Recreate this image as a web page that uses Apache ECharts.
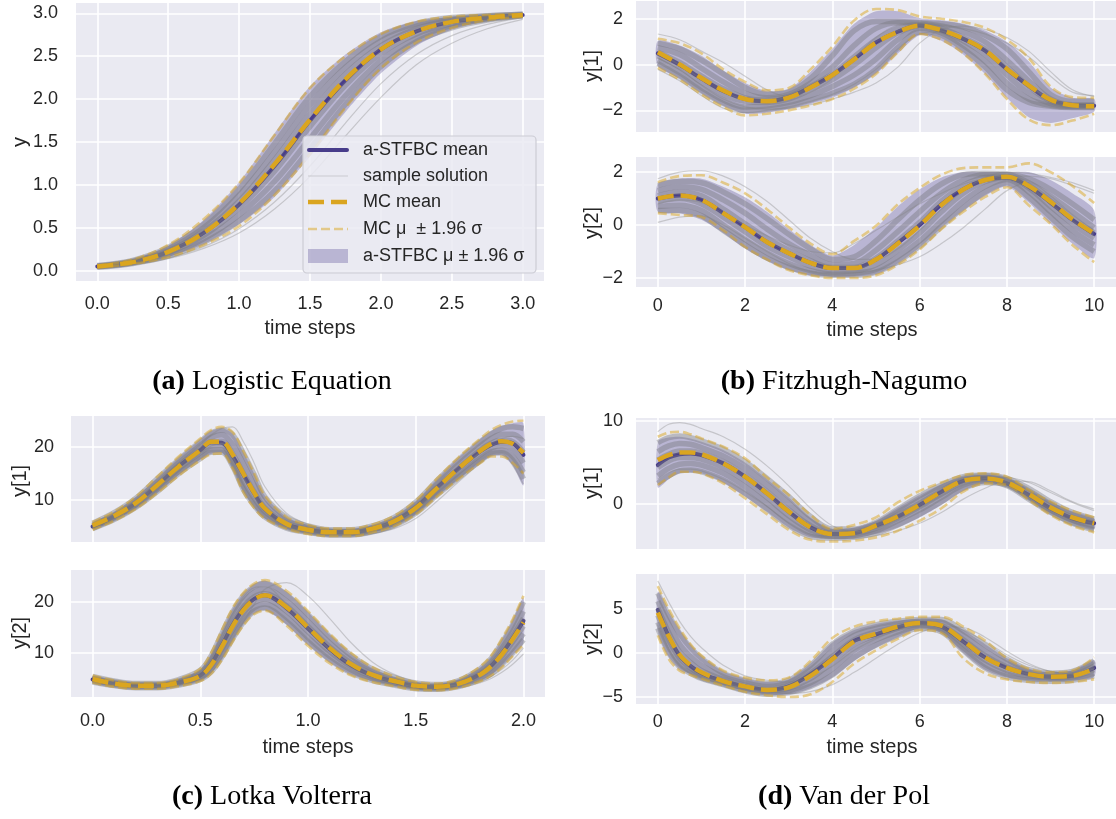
<!DOCTYPE html>
<html><head><meta charset="utf-8">
<script src="https://cdn.jsdelivr.net/npm/echarts@6.0.0/dist/echarts.min.js"></script>
<style>html,body{margin:0;padding:0;background:#fff}#c{width:1116px;height:819px}</style>
</head><body><div id="c"></div>
<script>
// ---------- (a) Logistic Equation ----------
const tA = [0,0.25,0.5,0.75,1,1.25,1.5,1.75,2,2.25,2.5,2.75,3];
const meanA   = [0.05,0.10,0.22,0.44,0.77,1.22,1.75,2.22,2.58,2.79,2.90,2.95,2.98];
const mcMeanA = [0.05,0.10,0.22,0.44,0.78,1.24,1.76,2.23,2.58,2.79,2.90,2.95,2.98];
const bandHiA = [0.06,0.13,0.29,0.59,1.03,1.60,2.15,2.52,2.78,2.91,2.96,2.98,2.99];
const bandLoA = [0.04,0.08,0.16,0.31,0.54,0.86,1.33,1.85,2.30,2.62,2.81,2.91,2.96];
const mcHiA   = [0.06,0.13,0.30,0.60,1.02,1.58,2.13,2.50,2.76,2.90,2.96,2.98,2.99];
const mcLoA   = [0.04,0.08,0.16,0.30,0.52,0.88,1.36,1.90,2.36,2.66,2.83,2.92,2.96];
const samplesA = [
  [0.06,0.12,0.27,0.54,0.95,1.48,2.03,2.44,2.73,2.88,2.95,2.97,2.99],
  [0.055,0.11,0.25,0.50,0.88,1.38,1.93,2.37,2.68,2.85,2.93,2.97,2.99],
  [0.05,0.105,0.23,0.46,0.81,1.29,1.83,2.29,2.62,2.82,2.92,2.96,2.98],
  [0.05,0.095,0.21,0.41,0.73,1.16,1.68,2.16,2.53,2.76,2.88,2.94,2.98],
  [0.045,0.09,0.19,0.37,0.65,1.04,1.54,2.04,2.45,2.71,2.86,2.93,2.97],
  [0.04,0.085,0.17,0.33,0.58,0.93,1.42,1.94,2.38,2.67,2.83,2.92,2.97]
];
const outliersA = [
  [0.04,0.07,0.14,0.26,0.44,0.72,1.10,1.57,2.02,2.40,2.65,2.82,2.93],
  [0.04,0.075,0.15,0.28,0.49,0.80,1.22,1.72,2.18,2.52,2.74,2.87,2.95]
];

// ---------- (b) Fitzhugh-Nagumo ----------
const tB = [0,0.5,1,1.5,2,2.5,3,3.5,4,4.5,5,5.5,6,6.5,7,7.5,8,8.5,9,9.5,10];
const meanB1   = [0.5,0.0,-0.6,-1.15,-1.5,-1.6,-1.42,-0.98,-0.45,0.25,0.98,1.45,1.72,1.5,1.14,0.62,-0.2,-0.92,-1.55,-1.77,-1.8];
const mcMeanB1 = [0.55,0.02,-0.58,-1.13,-1.5,-1.6,-1.44,-1.0,-0.45,0.24,0.97,1.44,1.72,1.52,1.15,0.63,-0.18,-0.9,-1.53,-1.78,-1.82];
const mcHiB1   = [1.14,0.95,0.5,-0.2,-0.75,-1.12,-1.02,-0.2,0.8,1.95,2.45,2.4,2.12,2.02,1.88,1.62,1.1,0.3,-0.95,-1.42,-1.45];
const mcLoB1   = [-0.13,-0.65,-1.3,-1.85,-2.22,-2.15,-2.0,-1.78,-1.5,-1.05,-0.4,0.55,1.35,1.1,0.5,-0.4,-1.5,-2.4,-2.65,-2.45,-2.15];
const bandHiB1 = [1.05,0.85,0.4,-0.25,-0.8,-1.15,-1.05,-0.3,0.7,1.8,2.35,2.35,2.05,1.95,1.8,1.5,1.0,0.15,-1.0,-1.45,-1.5];
const bandLoB1 = [-0.05,-0.6,-1.25,-1.8,-2.15,-2.1,-1.95,-1.72,-1.45,-1.0,-0.4,0.5,1.3,1.05,0.45,-0.4,-1.45,-2.3,-2.55,-2.35,-2.05];
const samplesB1 = [
  [0.95,0.7,0.2,-0.4,-1.0,-1.3,-1.2,-0.6,0.4,1.5,1.9,1.9,1.85,1.8,1.65,1.3,0.7,-0.3,-1.3,-1.6,-1.6],
  [0.75,0.45,-0.15,-0.75,-1.25,-1.45,-1.3,-0.8,-0.1,0.85,1.6,1.85,1.82,1.7,1.45,1.0,0.2,-0.7,-1.5,-1.75,-1.75],
  [0.55,0.1,-0.5,-1.05,-1.45,-1.55,-1.4,-0.95,-0.4,0.35,1.1,1.6,1.75,1.6,1.2,0.7,-0.1,-0.95,-1.6,-1.8,-1.8],
  [0.4,-0.1,-0.75,-1.3,-1.6,-1.65,-1.5,-1.1,-0.65,0.0,0.75,1.4,1.7,1.5,1.05,0.45,-0.45,-1.25,-1.7,-1.82,-1.82],
  [0.2,-0.35,-1.0,-1.55,-1.85,-1.8,-1.65,-1.35,-0.95,-0.45,0.25,1.1,1.6,1.4,0.85,0.15,-0.8,-1.5,-1.78,-1.85,-1.85],
  [0.05,-0.5,-1.15,-1.7,-2.0,-1.95,-1.8,-1.55,-1.25,-0.85,-0.2,0.75,1.45,1.3,0.7,-0.1,-1.1,-1.65,-1.82,-1.88,-1.88]
];
const outliersB1 = [
  [1.35,1.1,0.6,0.1,-0.5,-1.1,-1.4,-1.2,-0.6,0.3,1.2,1.75,1.85,1.75,1.6,1.35,0.95,0.35,-0.5,-1.2,-1.35],
  [0.3,-0.2,-0.9,-1.5,-1.85,-1.95,-1.9,-1.75,-1.5,-1.2,-0.8,-0.1,0.95,1.55,1.7,1.55,1.2,0.6,-0.3,-1.1,-1.4],
  [-0.2,-0.7,-1.35,-1.9,-2.1,-2.0,-1.85,-1.6,-1.3,-0.85,-0.2,0.7,1.35,1.45,1.2,0.7,-0.1,-0.9,-1.5,-1.7,-1.7]
];
const meanB2   = [1.0,1.12,0.95,0.45,-0.08,-0.64,-1.06,-1.43,-1.62,-1.62,-1.3,-0.68,0.0,0.78,1.35,1.7,1.8,1.45,0.85,0.2,-0.34];
const mcMeanB2 = [1.0,1.12,0.95,0.45,-0.08,-0.64,-1.06,-1.43,-1.62,-1.62,-1.3,-0.7,-0.02,0.76,1.34,1.7,1.82,1.48,0.88,0.22,-0.32];
const mcHiB2   = [1.62,1.85,1.88,1.6,1.2,0.6,-0.08,-0.7,-1.1,-0.6,-0.03,0.78,1.4,1.9,2.15,2.18,2.18,2.33,2.0,1.48,0.83];
const mcLoB2   = [0.45,0.38,0.3,-0.2,-0.83,-1.3,-1.7,-1.9,-2.0,-2.0,-1.9,-1.5,-0.92,-0.15,0.5,1.06,1.43,0.75,0.05,-0.75,-1.4];
const bandHiB2 = [1.55,1.75,1.75,1.45,1.05,0.5,-0.15,-0.75,-1.15,-0.75,-0.1,0.7,1.35,1.8,2.0,2.0,2.0,2.0,1.7,1.2,0.55];
const bandLoB2 = [0.5,0.45,0.2,-0.3,-0.9,-1.35,-1.7,-1.9,-1.95,-1.95,-1.85,-1.45,-0.85,-0.1,0.55,1.1,1.45,0.85,0.05,-0.7,-1.25];
const samplesB2 = [
  [1.5,1.65,1.6,1.25,0.8,0.25,-0.35,-0.9,-1.3,-1.2,-0.6,0.2,0.95,1.55,1.9,1.95,1.92,1.75,1.35,0.8,0.2],
  [1.3,1.45,1.35,0.95,0.45,-0.15,-0.7,-1.15,-1.5,-1.45,-0.95,-0.25,0.5,1.2,1.7,1.9,1.9,1.6,1.1,0.5,-0.1],
  [1.1,1.25,1.1,0.6,0.05,-0.5,-0.95,-1.35,-1.6,-1.6,-1.25,-0.6,0.1,0.9,1.5,1.8,1.82,1.5,0.9,0.25,-0.3],
  [0.9,1.0,0.8,0.3,-0.25,-0.8,-1.2,-1.55,-1.72,-1.72,-1.5,-0.95,-0.3,0.5,1.2,1.65,1.8,1.4,0.7,0.05,-0.5],
  [0.7,0.75,0.55,0.0,-0.55,-1.05,-1.45,-1.72,-1.85,-1.82,-1.68,-1.2,-0.6,0.15,0.9,1.45,1.72,1.25,0.5,-0.2,-0.75],
  [0.55,0.55,0.35,-0.2,-0.75,-1.25,-1.6,-1.82,-1.9,-1.9,-1.78,-1.38,-0.8,-0.05,0.65,1.25,1.6,1.05,0.3,-0.45,-1.0]
];
const outliersB2 = [
  [1.75,2.0,2.05,1.85,1.45,0.9,0.2,-0.5,-1.0,-1.3,-1.3,-0.9,-0.2,0.6,1.3,1.8,2.0,1.95,1.8,1.6,1.3],
  [0.1,0.3,0.35,0.0,-0.5,-1.0,-1.45,-1.75,-1.85,-1.8,-1.7,-1.5,-1.2,-0.7,-0.1,0.6,1.3,1.6,1.1,0.4,-0.2],
  [0.8,0.95,0.85,0.45,0.0,-0.4,-0.75,-1.0,-1.05,-0.7,-0.2,0.3,0.8,1.2,1.55,1.75,1.85,1.85,1.75,1.5,1.2]
];

// ---------- (c) Lotka Volterra ----------
const tC = [0,0.1,0.2,0.3,0.4,0.5,0.55,0.6,0.65,0.7,0.75,0.8,0.9,1.0,1.1,1.2,1.3,1.4,1.5,1.6,1.7,1.8,1.85,1.9,1.95,2.0];
const meanC1   = [5.0,6.9,9.4,12.8,16.4,19.4,20.9,20.8,18.3,14.8,11.3,8.3,5.4,4.4,3.9,3.9,4.6,6.0,8.6,12.4,16.0,19.2,20.4,21.0,20.7,18.5];
const mcMeanC1 = [5.2,7.0,9.4,12.8,16.3,19.4,21.0,21.0,18.6,15.0,11.4,8.4,5.5,4.4,3.9,3.9,4.6,6.0,8.5,12.3,16.0,19.3,20.6,21.1,20.6,18.9];
const mcHiC1   = [5.8,7.8,10.6,14.4,18.2,21.6,23.2,23.8,22.8,19.2,15.0,10.8,6.8,5.3,4.6,4.6,5.4,7.0,9.9,14.1,18.1,21.6,23.2,24.2,24.8,25.0];
const mcLoC1   = [4.4,6.1,8.3,11.3,14.6,17.5,18.6,18.8,16.0,11.5,8.5,6.5,4.6,3.6,3.2,3.2,3.9,5.1,7.3,10.7,14.0,17.0,18.2,18.2,17.0,15.0];
const bandHiC1 = [5.7,7.7,10.5,14.2,18.0,21.4,23.0,23.6,22.5,19.0,15.0,10.8,6.8,5.3,4.6,4.6,5.3,6.9,9.8,14.0,18.0,21.5,23.0,24.0,24.5,24.5];
const bandLoC1 = [4.5,6.2,8.4,11.4,14.7,17.6,18.7,18.9,16.0,11.6,8.6,6.5,4.6,3.7,3.3,3.3,3.9,5.1,7.3,10.8,14.0,17.0,18.3,18.4,16.5,12.8];
const samplesC1 = [
  [5.6,7.6,10.3,14.0,17.6,21.0,22.6,23.2,22.3,18.8,14.8,10.6,6.7,5.1,4.4,4.4,5.1,6.7,9.6,13.7,17.6,21.0,22.5,23.5,23.8,23.5],
  [5.3,7.2,9.9,13.4,17.0,20.3,21.8,22.3,20.5,16.8,12.8,9.3,6.0,4.8,4.1,4.1,4.8,6.3,9.0,13.0,16.8,20.2,21.6,22.4,22.4,21.0],
  [5.1,7.0,9.5,12.9,16.5,19.6,21.0,21.1,18.7,15.0,11.5,8.5,5.6,4.5,3.9,3.9,4.6,6.0,8.6,12.4,16.0,19.4,20.7,21.3,21.0,19.0],
  [4.9,6.7,9.1,12.4,15.9,18.9,20.2,20.3,17.4,13.6,10.4,7.8,5.2,4.2,3.7,3.7,4.4,5.7,8.2,11.8,15.3,18.6,19.8,20.3,19.6,17.0],
  [4.7,6.5,8.8,11.9,15.4,18.3,19.5,19.5,16.8,12.5,9.4,7.1,4.9,4.0,3.5,3.5,4.1,5.4,7.8,11.3,14.6,17.9,19.1,19.4,18.2,15.2],
  [4.6,6.3,8.6,11.6,15.0,17.8,19.0,19.0,16.4,12.0,9.0,6.8,4.7,3.9,3.4,3.4,4.0,5.2,7.5,11.0,14.3,17.4,18.7,18.9,17.5,14.0]
];
const outliersC1 = [
  [5.4,7.3,9.8,13.2,16.9,20.4,22.3,23.5,23.8,21.0,17.0,12.5,7.5,5.4,4.5,4.3,4.8,6.0,8.4,12.0,15.6,19.0,20.6,21.6,22.0,21.6],
  [4.8,6.5,8.8,12.0,15.5,18.8,20.2,20.6,18.2,14.2,10.6,7.8,5.0,4.0,3.5,3.4,3.7,4.6,6.5,9.8,13.5,17.0,18.5,18.8,16.5,13.0]
];
const meanC2   = [4.8,4.0,3.6,3.6,4.2,5.6,7.8,11.5,15.5,18.6,20.6,21.3,18.8,14.8,10.8,7.6,5.6,4.4,3.5,3.3,4.0,5.9,7.5,9.9,12.9,16.3];
const mcMeanC2 = [4.9,4.0,3.6,3.6,4.2,5.5,7.6,11.2,15.2,18.4,20.5,21.3,19.0,15.0,11.0,7.8,5.7,4.5,3.6,3.4,4.0,5.8,7.4,9.7,12.7,16.0];
const mcHiC2   = [5.6,4.6,4.1,4.1,4.9,6.9,10.0,14.5,18.8,21.8,23.6,24.3,22.2,18.2,13.8,10.0,7.2,5.4,4.3,4.0,4.9,7.4,9.5,12.8,16.6,21.2];
const mcLoC2   = [4.2,3.4,3.0,3.0,3.5,4.5,5.9,8.6,12.2,15.4,17.6,18.3,15.4,11.4,8.0,5.6,4.3,3.5,2.8,2.7,3.2,4.5,5.6,7.2,9.4,11.6];
const bandHiC2 = [5.5,4.6,4.1,4.1,4.9,6.8,9.8,14.3,18.6,21.6,23.5,24.2,22.0,18.0,13.6,9.8,7.0,5.3,4.2,3.9,4.8,7.2,9.3,12.6,16.3,20.8];
const bandLoC2 = [4.2,3.5,3.1,3.1,3.6,4.6,6.0,8.8,12.4,15.6,17.8,18.4,15.6,11.6,8.2,5.8,4.5,3.6,2.9,2.8,3.3,4.6,5.7,7.4,9.6,12.0];
const samplesC2 = [
  [5.4,4.5,4.0,4.0,4.8,6.6,9.4,13.8,18.0,21.2,23.0,23.6,21.4,17.5,13.2,9.5,6.8,5.2,4.1,3.8,4.6,6.9,8.9,12.0,15.6,20.0],
  [5.1,4.3,3.8,3.8,4.5,6.1,8.6,12.6,16.8,20.0,21.9,22.5,20.2,16.2,12.0,8.6,6.2,4.8,3.8,3.6,4.3,6.4,8.2,10.9,14.2,18.2],
  [4.9,4.1,3.7,3.7,4.3,5.8,8.0,11.8,15.8,19.0,21.0,21.6,19.2,15.2,11.2,8.0,5.8,4.5,3.6,3.4,4.1,6.0,7.7,10.2,13.3,16.8],
  [4.7,3.9,3.5,3.5,4.1,5.4,7.4,10.8,14.6,17.8,19.9,20.6,18.2,14.2,10.3,7.3,5.3,4.2,3.4,3.2,3.8,5.6,7.1,9.4,12.2,15.3],
  [4.5,3.7,3.3,3.3,3.9,5.0,6.8,9.9,13.6,16.8,18.9,19.6,17.0,13.0,9.4,6.7,4.9,3.9,3.2,3.0,3.6,5.1,6.4,8.5,11.0,13.8],
  [4.3,3.6,3.2,3.2,3.7,4.8,6.3,9.2,12.8,16.0,18.2,18.8,16.2,12.2,8.7,6.1,4.6,3.7,3.0,2.9,3.4,4.8,5.9,7.8,10.0,12.6]
];
const outliersC2 = [
  [4.6,3.8,3.4,3.4,3.8,4.8,6.2,8.8,12.3,16.0,19.5,22.5,23.8,21.2,16.8,12.0,8.2,5.8,4.3,3.6,3.6,4.5,5.4,6.8,8.6,11.0],
  [5.2,4.4,4.0,4.0,4.7,6.5,9.2,13.5,17.8,21.0,22.8,23.0,19.5,15.0,10.8,7.6,5.5,4.2,3.3,3.0,3.2,4.2,5.0,6.2,7.8,9.8]
];

// ---------- (d) Van der Pol ----------
const tD = [0,0.25,0.5,0.75,1,1.5,2,2.5,3,3.5,4,4.5,5,5.5,6,6.5,7,7.5,8,8.5,9,9.5,10];
const meanD1   = [4.7,5.6,6.0,6.1,5.9,4.9,3.3,1.3,-0.9,-2.8,-3.6,-3.5,-2.6,-1.5,-0.1,1.5,2.8,3.1,2.5,1.1,-0.5,-1.7,-2.3];
const mcMeanD1 = [5.3,5.9,6.2,6.2,6.0,4.9,3.3,1.3,-0.9,-2.8,-3.6,-3.5,-2.6,-1.5,-0.1,1.5,2.8,3.1,2.6,1.2,-0.4,-1.6,-2.3];
const mcHiD1   = [8.1,8.6,8.7,8.4,7.9,6.9,5.5,3.2,1.1,-1.3,-3.0,-2.5,-1.6,0.2,1.6,2.6,3.5,3.7,3.3,1.7,0.3,-0.8,-1.6];
const mcLoD1   = [2.3,3.2,3.9,3.9,3.7,2.5,0.7,-1.2,-3.1,-4.3,-4.5,-4.4,-4.0,-3.2,-2.0,-0.5,1.5,2.5,2.3,0.5,-1.3,-2.6,-3.4];
const bandHiD1 = [7.5,8.0,8.1,7.9,7.5,6.5,5.0,3.0,0.8,-1.6,-3.0,-2.8,-2.0,-0.4,1.1,2.4,3.3,3.5,3.2,1.8,0.3,-0.9,-1.7];
const bandLoD1 = [2.0,3.0,3.7,3.8,3.7,2.6,0.9,-0.9,-2.8,-4.0,-4.2,-4.1,-3.6,-2.8,-1.6,-0.1,1.6,2.5,2.2,0.6,-1.1,-2.3,-3.0];
const samplesD1 = [
  [7.4,8.0,8.2,8.0,7.6,6.6,5.1,3.1,0.9,-1.5,-3.0,-3.0,-2.2,-0.6,1.0,2.3,3.3,3.5,3.1,1.9,0.3,-1.0,-1.8],
  [6.3,7.0,7.3,7.2,6.8,5.8,4.3,2.3,0.1,-2.1,-3.3,-3.2,-2.4,-1.0,0.5,2.0,3.1,3.4,2.9,1.6,0.0,-1.3,-2.1],
  [5.3,6.0,6.4,6.4,6.1,5.1,3.5,1.5,-0.7,-2.6,-3.5,-3.4,-2.6,-1.3,0.1,1.6,2.9,3.2,2.7,1.3,-0.3,-1.6,-2.3],
  [4.4,5.2,5.6,5.6,5.4,4.4,2.8,0.8,-1.4,-3.1,-3.7,-3.6,-2.9,-1.7,-0.3,1.2,2.6,3.0,2.4,0.9,-0.7,-1.9,-2.6],
  [3.4,4.3,4.8,4.9,4.7,3.7,2.1,0.1,-2.0,-3.5,-3.9,-3.8,-3.2,-2.0,-0.7,0.8,2.3,2.8,2.2,0.6,-1.0,-2.2,-2.9],
  [2.5,3.4,4.0,4.1,3.9,2.9,1.3,-0.6,-2.6,-3.9,-4.1,-4.0,-3.5,-2.5,-1.2,0.3,1.9,2.6,2.3,0.8,-0.9,-2.3,-3.1]
];
const outliersD1 = [
  [8.7,9.6,9.8,9.6,9.1,8.1,6.6,4.6,2.2,-0.5,-2.6,-3.3,-2.9,-1.8,-0.4,1.0,2.3,3.1,3.2,2.6,1.4,0.2,-0.8],
  [3.0,3.8,4.2,4.2,4.0,3.0,1.5,-0.3,-2.2,-3.6,-4.1,-4.1,-3.8,-3.2,-2.3,-1.0,0.6,1.9,2.8,2.7,1.6,0.3,-0.6]
];
const meanD2   = [4.9,1.9,-0.3,-1.5,-2.3,-3.2,-3.8,-4.2,-3.8,-2.4,-0.6,1.4,2.1,2.9,3.4,3.0,1.3,-0.5,-1.7,-2.4,-2.7,-2.6,-1.7];
const mcMeanD2 = [4.6,1.9,-0.2,-1.4,-2.2,-3.2,-3.8,-4.2,-3.9,-2.6,-0.7,1.3,2.2,3.0,3.4,3.1,1.4,-0.5,-1.7,-2.4,-2.7,-2.6,-1.8];
const mcHiD2   = [7.6,5.0,2.8,1.0,-0.3,-2.0,-2.8,-3.1,-2.8,-0.9,1.7,3.0,3.6,3.9,4.1,4.1,3.0,1.4,-0.6,-1.8,-2.2,-2.0,-0.5];
const mcLoD2   = [2.0,-0.7,-2.0,-2.5,-2.9,-3.7,-4.4,-4.8,-5.0,-4.7,-3.3,-1.2,0.3,1.6,2.6,2.3,-0.6,-2.3,-3.0,-3.3,-3.4,-3.3,-3.0];
const bandHiD2 = [7.0,4.6,2.6,0.9,-0.4,-2.1,-2.9,-3.3,-3.0,-1.2,1.2,2.6,3.3,3.7,3.9,3.8,2.6,1.0,-0.6,-1.8,-2.2,-2.0,-0.8];
const bandLoD2 = [2.4,-0.4,-1.8,-2.4,-2.9,-3.6,-4.3,-4.7,-4.7,-4.0,-2.8,-0.9,0.6,1.8,2.8,2.3,0.0,-1.9,-2.8,-3.1,-3.2,-3.1,-2.7];
const samplesD2 = [
  [6.8,4.3,2.2,0.6,-0.6,-2.3,-3.1,-3.5,-3.1,-1.4,1.0,2.5,3.2,3.6,3.8,3.8,2.5,0.9,-0.7,-1.9,-2.3,-2.1,-0.9],
  [5.9,3.3,1.0,-0.4,-1.4,-2.7,-3.4,-3.8,-3.4,-1.9,0.2,2.0,2.8,3.3,3.6,3.5,2.0,0.2,-1.2,-2.2,-2.5,-2.3,-1.2],
  [5.1,2.3,0.1,-1.1,-2.0,-3.0,-3.7,-4.1,-3.7,-2.3,-0.4,1.5,2.4,3.0,3.4,3.1,1.5,-0.3,-1.6,-2.4,-2.7,-2.5,-1.5],
  [4.3,1.5,-0.6,-1.7,-2.5,-3.3,-4.0,-4.3,-4.0,-2.9,-1.0,1.0,2.0,2.8,3.2,2.8,1.0,-0.8,-2.0,-2.6,-2.8,-2.7,-1.9],
  [3.5,0.7,-1.2,-2.1,-2.8,-3.5,-4.2,-4.5,-4.3,-3.4,-1.8,0.3,1.5,2.4,3.0,2.6,0.6,-1.3,-2.4,-2.9,-3.0,-2.9,-2.3],
  [2.8,0.0,-1.6,-2.3,-2.9,-3.6,-4.3,-4.7,-4.5,-3.8,-2.5,-0.5,0.9,2.0,2.8,2.4,0.3,-1.7,-2.7,-3.1,-3.2,-3.1,-2.6]
];
const outliersD2 = [
  [8.2,5.8,3.6,1.9,0.6,-1.4,-2.6,-3.1,-3.3,-2.8,-1.5,0.3,1.6,2.6,3.2,3.3,2.6,1.3,-0.2,-1.4,-2.1,-2.3,-1.8],
  [3.2,0.4,-1.4,-2.3,-2.9,-3.6,-4.1,-4.4,-4.6,-4.4,-3.6,-2.2,-0.6,1.0,2.3,3.0,2.9,1.8,0.2,-1.2,-2.1,-2.4,-2.1]
];

// ---------- ticks ----------
const xTicksA = [0,0.5,1,1.5,2,2.5,3];
const yTicksA = [0,0.5,1,1.5,2,2.5,3];
const xTicksB = [0,2,4,6,8,10];
const yTicksB = [-2,0,2];
const xTicksC = [0,0.5,1,1.5,2];
const yTicksC = [10,20];
const xTicksD = [0,2,4,6,8,10];
const yTicksD1 = [0,10];
const yTicksD2 = [-5,0,5];

const panels = [
  {t:tA, mean:meanA, mcMean:mcMeanA, mcHi:mcHiA, mcLo:mcLoA, hi:bandHiA, lo:bandLoA, s:samplesA, o:outliersA},
  {t:tB, mean:meanB1, mcMean:mcMeanB1, mcHi:mcHiB1, mcLo:mcLoB1, hi:bandHiB1, lo:bandLoB1, s:samplesB1, o:outliersB1},
  {t:tB, mean:meanB2, mcMean:mcMeanB2, mcHi:mcHiB2, mcLo:mcLoB2, hi:bandHiB2, lo:bandLoB2, s:samplesB2, o:outliersB2},
  {t:tC, mean:meanC1, mcMean:mcMeanC1, mcHi:mcHiC1, mcLo:mcLoC1, hi:bandHiC1, lo:bandLoC1, s:samplesC1, o:outliersC1},
  {t:tC, mean:meanC2, mcMean:mcMeanC2, mcHi:mcHiC2, mcLo:mcLoC2, hi:bandHiC2, lo:bandLoC2, s:samplesC2, o:outliersC2},
  {t:tD, mean:meanD1, mcMean:mcMeanD1, mcHi:mcHiD1, mcLo:mcLoD1, hi:bandHiD1, lo:bandLoD1, s:samplesD1, o:outliersD1},
  {t:tD, mean:meanD2, mcMean:mcMeanD2, mcHi:mcHiD2, mcLo:mcLoD2, hi:bandHiD2, lo:bandLoD2, s:samplesD2, o:outliersD2}
];

const gridPos = [
  {left:76, top:3, width:468, height:278},
  {left:636, top:1, width:480, height:131},
  {left:636, top:157, width:480, height:130},
  {left:71, top:416, width:474, height:126},
  {left:71, top:570, width:474, height:127},
  {left:636, top:418, width:480, height:131},
  {left:636, top:574, width:480, height:130}
];
const axisCfg = [
  {xr:[-0.15,3.15], yr:[-0.12,3.12], xt:xTicksA, yt:yTicksA, xl:true, dec:1, ydec:1, xm:14, ym:18},
  {xr:[-0.5,10.5], yr:[-2.95,2.8], xt:xTicksB, yt:yTicksB, xl:false, dec:0, ydec:0, xm:10, ym:13},
  {xr:[-0.5,10.5], yr:[-2.34,2.57], xt:xTicksB, yt:yTicksB, xl:true, dec:0, ydec:0, xm:10, ym:13},
  {xr:[-0.1,2.1], yr:[2.08,25.85], xt:xTicksC, yt:yTicksC, xl:false, dec:1, ydec:0, xm:15, ym:17},
  {xr:[-0.1,2.1], yr:[1.37,26.27], xt:xTicksC, yt:yTicksC, xl:true, dec:1, ydec:0, xm:15, ym:17},
  {xr:[-0.5,10.5], yr:[-5.4,10.36], xt:xTicksD, yt:yTicksD1, xl:false, dec:0, ydec:0, xm:9, ym:13},
  {xr:[-0.5,10.5], yr:[-5.8,8.98], xt:xTicksD, yt:yTicksD2, xl:true, dec:0, ydec:0, xm:9, ym:13}
];

const SANS = "'Liberation Sans', Arial, sans-serif";
const SERIF = "'Liberation Serif', 'Times New Roman', serif";
const TXT = '#262626';
const fmt = d => v => Number(v).toFixed(d).replace('-', '\u2212');

const grids = gridPos.map(g => Object.assign({show:true, backgroundColor:'#EAEAF2', borderWidth:0, containLabel:false, outerBoundsMode:'none'}, g));
const xAxes = axisCfg.map((a,i) => ({
  type:'value', gridIndex:i, min:a.xr[0], max:a.xr[1],
  axisLine:{show:false}, axisTick:{show:false, customValues:a.xt},
  axisLabel:{show:a.xl, customValues:a.xt, formatter:fmt(a.dec), color:TXT, fontSize:18, fontFamily:SANS, margin:a.xm},
  splitLine:{show:true, lineStyle:{color:'#ffffff', width:1.6}}
}));
const yAxes = axisCfg.map((a,i) => ({
  type:'value', gridIndex:i, min:a.yr[0], max:a.yr[1],
  axisLine:{show:false}, axisTick:{show:false, customValues:a.yt},
  axisLabel:{show:true, customValues:a.yt, formatter:fmt(a.ydec), color:TXT, fontSize:18, fontFamily:SANS, margin:a.ym},
  splitLine:{show:true, lineStyle:{color:'#ffffff', width:1.6}}
}));

function pairs(t, ys){ return t.map((x,i)=>[x, ys[i]]); }
function line(gi, t, ys, ls, z){
  return {type:'line', xAxisIndex:gi, yAxisIndex:gi, data:pairs(t,ys), smooth:0.35, symbol:'none',
          silent:true, z:z, lineStyle:ls, animation:false};
}
function band(gi, t, lo, hi){
  return {type:'custom', xAxisIndex:gi, yAxisIndex:gi, z:1, silent:true, animation:false,
    data:[[t[0], lo[0]]],
    renderItem:function(params, api){
      const pts = [];
      for (let i=0;i<t.length;i++) pts.push(api.coord([t[i], hi[i]]));
      for (let i=t.length-1;i>=0;i--) pts.push(api.coord([t[i], lo[i]]));
      return {type:'polygon', shape:{points:pts, smooth:0.25}, style:{fill:'rgba(72,61,139,0.3)'}};
    }};
}

const series = [];
panels.forEach((p, gi) => {
  series.push(band(gi, p.t, p.lo, p.hi));
  series.push(line(gi, p.t, p.mean, {color:'#483D8B', width:4, cap:'round'}, 2));
  p.s.forEach(s => series.push(line(gi, p.t, s, {color:'rgba(118,118,126,0.42)', width:5.5}, 3)));
  p.o.forEach(s => series.push(line(gi, p.t, s, {color:'rgba(128,128,128,0.35)', width:1.2}, 3)));
  series.push(line(gi, p.t, p.mcHi, {color:'rgba(218,165,32,0.5)', width:2.6, type:[9,4]}, 4));
  series.push(line(gi, p.t, p.mcLo, {color:'rgba(218,165,32,0.5)', width:2.6, type:[9,4]}, 4));
  series.push(line(gi, p.t, p.mcMean, {color:'#DAA520', width:4.5, type:[16,7]}, 5));
});

// ---------- text & legend graphics ----------
function txt(x, y, text, opt){
  return Object.assign({type:'text', x:x, y:y, z:100, silent:true,
    style:Object.assign({text:text, fill:TXT, font:'20px ' + SANS, align:'center', verticalAlign:'middle'}, opt && opt.style || {})},
    opt && opt.rot ? {rotation:Math.PI/2} : {});
}
const capStyle = {font:'28px ' + SERIF, fill:'#000', rich:{b:{fontWeight:'bold', fontSize:28, fontFamily:SERIF, fill:'#000'}, n:{fontSize:28, fontFamily:SERIF, fill:'#000'}}};
const graphics = [
  txt(20, 142, 'y', {rot:true}),
  txt(592, 66, 'y[1]', {rot:true}),
  txt(592, 223, 'y[2]', {rot:true}),
  txt(20, 481, 'y[1]', {rot:true}),
  txt(20, 633, 'y[2]', {rot:true}),
  txt(592, 483, 'y[1]', {rot:true}),
  txt(592, 639, 'y[2]', {rot:true}),
  txt(310, 328, 'time steps'),
  txt(872, 330, 'time steps'),
  txt(308, 747, 'time steps'),
  txt(872, 747, 'time steps'),
  txt(272, 382, '{b|(a)} {n|Logistic Equation}', {style:capStyle}),
  txt(844, 382, '{b|(b)} {n|Fitzhugh-Nagumo}', {style:capStyle}),
  txt(272, 797, '{b|(c)} {n|Lotka Volterra}', {style:capStyle}),
  txt(844, 797, '{b|(d)} {n|Van der Pol}', {style:capStyle}),
  // legend
  {type:'rect', z:100, silent:true, shape:{x:303, y:136, width:233, height:137, r:4},
   style:{fill:'rgba(234,234,242,0.85)', stroke:'#CCCCD4', lineWidth:1.2}},
  {type:'line', z:101, silent:true, shape:{x1:309, y1:150, x2:347, y2:150}, style:{stroke:'#483D8B', lineWidth:4, lineCap:'round'}},
  {type:'line', z:101, silent:true, shape:{x1:308, y1:176, x2:348, y2:176}, style:{stroke:'rgba(128,128,128,0.3)', lineWidth:1.2}},
  {type:'line', z:101, silent:true, shape:{x1:308, y1:202, x2:348, y2:202}, style:{stroke:'#DAA520', lineWidth:4.5, lineDash:[16,7]}},
  {type:'line', z:101, silent:true, shape:{x1:308, y1:229, x2:348, y2:229}, style:{stroke:'rgba(218,165,32,0.5)', lineWidth:2.6, lineDash:[9,4]}},
  {type:'rect', z:101, silent:true, shape:{x:308, y:249, width:40, height:14}, style:{fill:'rgba(72,61,139,0.3)'}},
  txt(363, 150, 'a-STFBC mean', {style:{align:'left', font:'18px ' + SANS}}),
  txt(363, 176, 'sample solution', {style:{align:'left', font:'18px ' + SANS}}),
  txt(363, 202, 'MC mean', {style:{align:'left', font:'18px ' + SANS}}),
  txt(363, 229, 'MC \u03bc  \u00b1 1.96 \u03c3', {style:{align:'left', font:'18px ' + SANS}}),
  txt(363, 256, 'a-STFBC \u03bc \u00b1 1.96 \u03c3', {style:{align:'left', font:'18px ' + SANS}})
];

const chart = echarts.init(document.getElementById('c'), null, {renderer:'canvas', width:1116, height:819});
chart.setOption({
  animation:false,
  backgroundColor:'#ffffff',
  grid:grids, xAxis:xAxes, yAxis:yAxes, series:series,
  graphic:{elements:graphics}
});
</script></body></html>
